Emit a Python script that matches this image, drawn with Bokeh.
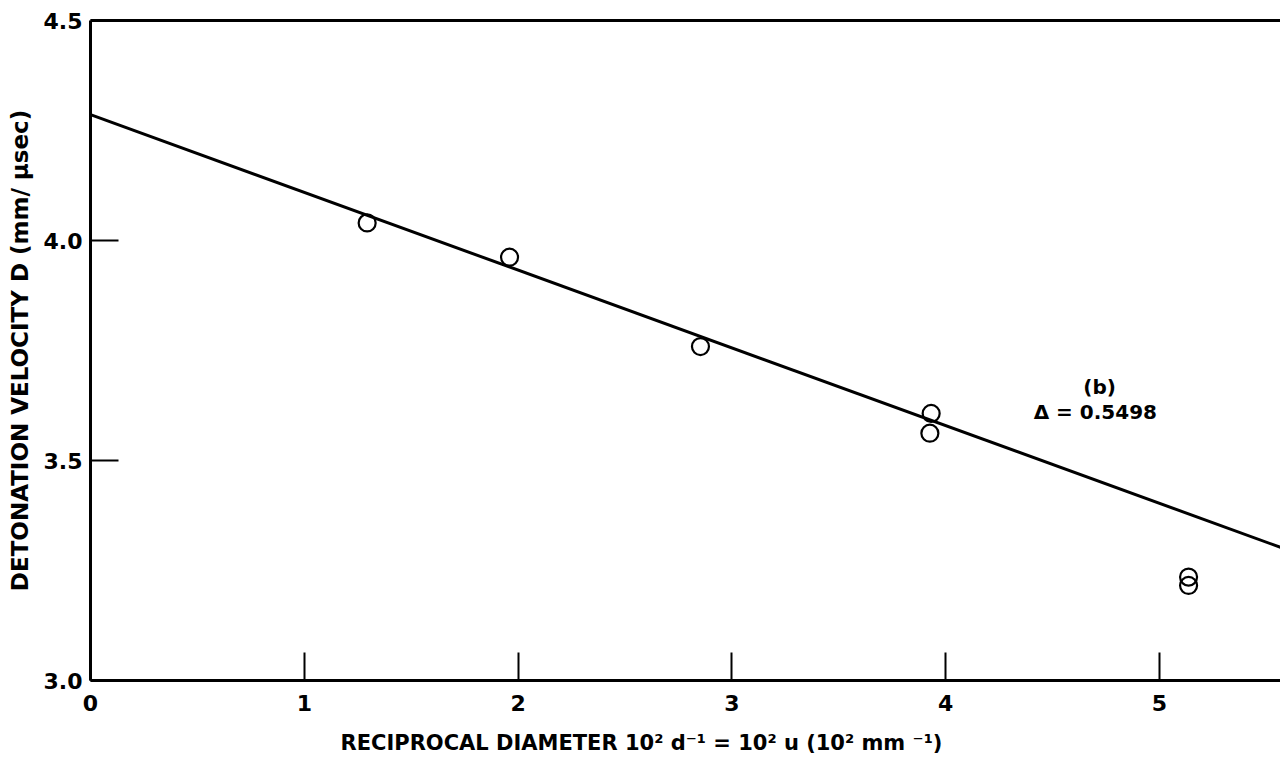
from bokeh.plotting import figure
from bokeh.models import (ColumnDataSource, FixedTicker, LinearAxis, Label,
                          Range1d, NumeralTickFormatter, Title)
from bokeh.embed import file_html
from bokeh.resources import INLINE

# Measured detonation velocity against reciprocal charge diameter
recip_diameter = [1.294, 1.960, 2.853, 3.932, 3.926, 5.136, 5.136]
velocity = [4.040, 3.962, 3.759, 3.607, 3.562, 3.235, 3.216]

# Straight-line fit through the data (end points)
fit_x = [0.0, 5.7]
fit_y = [4.286, 3.279]

x_ticks = [0, 1, 2, 3, 4, 5]
y_ticks = [3.0, 3.5, 4.0, 4.5]

x_title = "RECIPROCAL DIAMETER 10\u00b2 d\u207b\u00b9 = 10\u00b2 u (10\u00b2 mm \u207b\u00b9)"
y_title = "DETONATION VELOCITY D (mm/ \u03bcsec)"

FONT = "DejaVu Sans"

p = figure(width=1280, height=770, output_backend="svg", toolbar_location=None,
           x_range=Range1d(0, 5.566), y_range=Range1d(3.0, 4.5),
           min_border_left=90, min_border_right=0, min_border_bottom=90,
           min_border_top=20, outline_line_color=None,
           background_fill_color="white", border_fill_color="white")
p.grid.visible = False

# bottom axis
xa = p.xaxis[0]
xa.ticker = FixedTicker(ticks=x_ticks)
# left axis
ya = p.yaxis[0]
ya.ticker = FixedTicker(ticks=y_ticks)
ya.formatter = NumeralTickFormatter(format="0.0")
ya.axis_label = y_title

for ax in (xa, ya):
    ax.axis_line_width = 3
    ax.axis_line_color = "black"
    ax.major_tick_in = 28
    ax.major_tick_out = 0
    ax.major_tick_line_width = 2
    ax.major_tick_line_color = "black"
    ax.minor_tick_line_color = None
    ax.major_label_text_font = FONT
    ax.major_label_text_font_size = "22px"
    ax.major_label_text_font_style = "bold"
    ax.major_label_text_color = "black"
    ax.axis_label_text_font = FONT
    ax.axis_label_text_font_size = "23px"
    ax.axis_label_text_font_style = "bold"
    ax.axis_label_text_color = "black"

xa.major_label_standoff = 14
ya.major_label_standoff = 8
ya.axis_label_standoff = 8

# top border line
top = LinearAxis(ticker=FixedTicker(ticks=[]), axis_line_width=3,
                 axis_line_color="black", major_tick_line_color=None,
                 minor_tick_line_color=None, major_label_text_font_size="0px")
p.add_layout(top, "above")

# x-axis title under the tick labels
p.add_layout(Title(text=x_title, align="left", offset=250, standoff=30,
                   text_line_height=0.8, text_font=FONT, text_font_size="21px",
                   text_font_style="bold", text_color="black"), "below")

# fitted line
p.line(fit_x, fit_y, line_color="black", line_width=3)

# data points
src = ColumnDataSource(dict(x=recip_diameter, y=velocity))
p.scatter("x", "y", source=src, marker="circle", size=17, fill_alpha=0,
          line_color="black", line_width=2.2)

# annotation
p.add_layout(Label(x=4.72, y=3.667, text="(b)", text_align="center",
                   text_baseline="middle", text_font=FONT,
                   text_font_size="20px", text_font_style="bold",
                   text_color="black"))
p.add_layout(Label(x=4.70, y=3.610, text="\u0394 = 0.5498", text_align="center",
                   text_baseline="middle", text_font=FONT,
                   text_font_size="20px", text_font_style="bold",
                   text_color="black"))

open("out.html", "w").write(file_html(p, INLINE))
